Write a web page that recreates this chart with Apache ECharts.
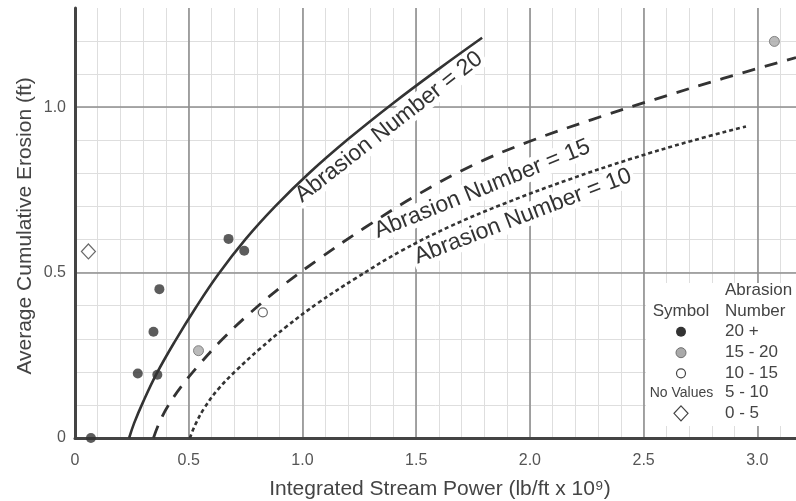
<!DOCTYPE html>
<html>
<head>
<meta charset="utf-8">
<script src="https://cdn.jsdelivr.net/npm/echarts@6/dist/echarts.min.js"></script>
<style>
  html, body { margin: 0; padding: 0; background: #fff; }
  #chart { width: 796px; height: 501px; }
</style>
</head>
<body>
<div id="chart"></div>
<script>
const FONT = "'Liberation Sans', Arial, Helvetica, sans-serif";

// Erosion curves, one per abrasion number
const curve20X = [0.238, 0.26, 0.30, 0.36, 0.44, 0.53, 0.63, 0.75, 0.88, 1.03, 1.20, 1.40, 1.60, 1.79];
const curve20Y = [0.00, 0.045, 0.11, 0.196, 0.293, 0.393, 0.495, 0.601, 0.700, 0.801, 0.903, 1.013, 1.116, 1.21];

const curve15X = [0.345, 0.37, 0.41, 0.47, 0.55, 0.65, 0.77, 0.91, 1.07, 1.27, 1.50, 1.75, 2.00, 2.27, 2.55, 2.85, 3.17];
const curve15Y = [0.00, 0.045, 0.098, 0.158, 0.225, 0.300, 0.378, 0.459, 0.540, 0.634, 0.733, 0.825, 0.897, 0.962, 1.024, 1.087, 1.15];

const curve10X = [0.505, 0.53, 0.57, 0.63, 0.71, 0.81, 0.93, 1.07, 1.23, 1.43, 1.65, 1.90, 2.17, 2.45, 2.71, 2.95];
const curve10Y = [0.00, 0.042, 0.092, 0.148, 0.205, 0.268, 0.337, 0.409, 0.481, 0.564, 0.640, 0.712, 0.781, 0.845, 0.898, 0.942];

// Measured sites, grouped by abrasion number class
const sites20PlusX = [0.07, 0.276, 0.362, 0.345, 0.371, 0.675, 0.744];
const sites20PlusY = [0.00, 0.195, 0.191, 0.321, 0.450, 0.602, 0.566];
const sites15to20X = [0.543, 3.075];
const sites15to20Y = [0.264, 1.199];
const sites10to15X = [0.826];
const sites10to15Y = [0.380];
const sites0to5X = [0.059];
const sites0to5Y = [0.564];

// Tick labels
const xTickLabels = ['0', '0.5', '1.0', '1.5', '2.0', '2.5', '3.0'];
const yTickLabels = ['0', '0.5', '1.0'];

// Legend text
const legendSymbolHeader = 'Symbol';
const legendRangeHeader = ['Abrasion', 'Number'];
const legendRanges = ['20 +', '15 - 20', '10 - 15', '5 - 10', '0 - 5'];
const legendNoValues = 'No Values';

// Curve captions and axis titles
const curveCaptions = ['Abrasion Number = 20', 'Abrasion Number = 15', 'Abrasion Number = 10'];
const xTitle = 'Integrated Stream Power (lb/ft x 10\u2079)';
const yTitle = 'Average Cumulative Erosion (ft)';

const zip = (xs, ys) => xs.map((x, i) => [x, ys[i]]);

const X_MAX = 3.17, Y_MAX = 1.3;
const INK = '#333';

function tickFormatter(labels) {
  return function (v) {
    const k = Math.round(v / 0.5);
    if (Math.abs(v - k * 0.5) > 1e-6) return '';
    return labels[k] !== undefined ? labels[k] : '';
  };
}

// Light 0.1 grid underneath, darker 0.5 grid on top
const minorAxisBase = {
  type: 'value', min: 0, interval: 0.1, z: 0,
  axisLine: { show: false }, axisTick: { show: false }, axisLabel: { show: false },
  splitLine: { show: true, showMinLine: false, showMaxLine: false, lineStyle: { color: '#dedede', width: 1 } }
};
const majorAxisBase = {
  type: 'value', min: 0, interval: 0.5, z: 1,
  axisLine: { show: true, onZero: false, lineStyle: { color: '#444', width: 3 } },
  axisTick: { show: false },
  splitLine: { show: true, showMinLine: false, showMaxLine: false, lineStyle: { color: '#8e8e8e', width: 1.6 } }
};

const chart = echarts.init(document.getElementById('chart'), null, { renderer: 'canvas' });

const curveLine = (name, xs, ys, type, width) => ({
  name, type: 'line', xAxisIndex: 1, yAxisIndex: 1, z: 5,
  data: zip(xs, ys), smooth: 0.4,
  showSymbol: false, symbol: 'none', silent: true, animation: false,
  lineStyle: { color: INK, width, type }
});

const scatter = (name, xs, ys, symbol, size, itemStyle) => ({
  name, type: 'scatter', xAxisIndex: 1, yAxisIndex: 1, z: 6,
  data: zip(xs, ys), symbol, symbolSize: size, itemStyle, animation: false, clip: false
});

chart.setOption({
  animation: false,
  backgroundColor: '#fff',
  textStyle: { fontFamily: FONT },
  grid: { left: 75, right: 0, top: 8, bottom: 63, containLabel: false },
  xAxis: [
    Object.assign({}, minorAxisBase, { max: X_MAX, position: 'bottom' }),
    Object.assign({}, majorAxisBase, {
      max: X_MAX, position: 'bottom',
      axisLabel: { show: true, margin: 15, color: '#555', fontSize: 16, fontFamily: FONT,
        showMaxLabel: false, formatter: tickFormatter(xTickLabels) }
    })
  ],
  yAxis: [
    Object.assign({}, minorAxisBase, { max: Y_MAX, position: 'left' }),
    Object.assign({}, majorAxisBase, {
      max: Y_MAX, position: 'left',
      axisLabel: { show: true, margin: 9, color: '#555', fontSize: 16, fontFamily: FONT,
        showMaxLabel: false, formatter: tickFormatter(yTickLabels) }
    })
  ],
  series: [
    curveLine(curveCaptions[0], curve20X, curve20Y, 'solid', 2.6),
    curveLine(curveCaptions[1], curve15X, curve15Y, [13, 10], 2.8),
    curveLine(curveCaptions[2], curve10X, curve10Y, [4, 3], 2.6),
    scatter('20 +', sites20PlusX, sites20PlusY, 'circle', 10, { color: INK }),
    scatter('15 - 20', sites15to20X, sites15to20Y, 'circle', 10, { color: '#a9a9a9', borderColor: '#6f6f6f', borderWidth: 1 }),
    scatter('10 - 15', sites10to15X, sites10to15Y, 'circle', 9, { color: '#fff', borderColor: '#444', borderWidth: 1.2 }),
    scatter('0 - 5', sites0to5X, sites0to5Y, 'diamond', [14, 15], { color: '#fff', borderColor: '#444', borderWidth: 1.2 })
  ]
});

// Captions placed along the curves, anchored in data space
const captionAnchors = [
  { x: 1.381, y: 0.940, angle: 38 },
  { x: 1.791, y: 0.753, angle: 22 },
  { x: 1.969, y: 0.670, angle: 21 }
];

const graphics = [];
captionAnchors.forEach((a, i) => {
  const p = chart.convertToPixel({ xAxisIndex: 1, yAxisIndex: 1 }, [a.x, a.y]);
  graphics.push({
    type: 'text', x: p[0], y: p[1], rotation: a.angle * Math.PI / 180, z: 3, silent: true,
    style: {
      text: curveCaptions[i], fill: INK, font: '23px ' + FONT,
      align: 'center', verticalAlign: 'middle',
      backgroundColor: '#fff', padding: [0, 3]
    }
  });
});

// Axis titles
graphics.push({
  type: 'text', x: 440, y: 489, z: 3, silent: true,
  style: { text: xTitle, fill: '#444', font: '21px ' + FONT, align: 'center', verticalAlign: 'middle' }
});
graphics.push({
  type: 'text', x: 25, y: 226, rotation: Math.PI / 2, z: 3, silent: true,
  style: { text: yTitle, fill: '#444', font: '21px ' + FONT, align: 'center', verticalAlign: 'middle' }
});

// Symbol key
const keyLeft = 646, keyTop = 283, symX = 681, rangeX = 725;
const rowY = [331.7, 352.7, 373.3, 392.7, 413.3];
graphics.push({ type: 'rect', z: 3, silent: true, shape: { x: keyLeft, y: keyTop, width: 796 - keyLeft, height: 143 }, style: { fill: '#fff' } });
const keyText = (text, x, y, align, size) => ({
  type: 'text', x, y, z: 7, silent: true,
  style: { text, fill: '#444', font: size + 'px ' + FONT, align, verticalAlign: 'middle' }
});
graphics.push(keyText(legendRangeHeader[0], rangeX, 290.7, 'left', 17));
graphics.push(keyText(legendRangeHeader[1], rangeX, 311, 'left', 17));
graphics.push(keyText(legendSymbolHeader, symX, 311, 'center', 17));
legendRanges.forEach((t, i) => graphics.push(keyText(t, rangeX, rowY[i], 'left', 17)));
graphics.push(keyText(legendNoValues, symX + 0.5, rowY[3], 'center', 14));
graphics.push({ type: 'circle', z: 7, silent: true, shape: { cx: symX, cy: rowY[0], r: 5 }, style: { fill: INK } });
graphics.push({ type: 'circle', z: 7, silent: true, shape: { cx: symX, cy: rowY[1], r: 5 }, style: { fill: '#a9a9a9', stroke: '#6f6f6f', lineWidth: 1 } });
graphics.push({ type: 'circle', z: 7, silent: true, shape: { cx: symX, cy: rowY[2], r: 4.5 }, style: { fill: '#fff', stroke: '#444', lineWidth: 1.2 } });
graphics.push({ type: 'polygon', z: 7, silent: true,
  shape: { points: [[symX, rowY[4] - 7.5], [symX + 7, rowY[4]], [symX, rowY[4] + 7.5], [symX - 7, rowY[4]]] },
  style: { fill: '#fff', stroke: '#444', lineWidth: 1.2 } });

chart.setOption({ graphic: { elements: graphics } });
</script>
</body>
</html>
